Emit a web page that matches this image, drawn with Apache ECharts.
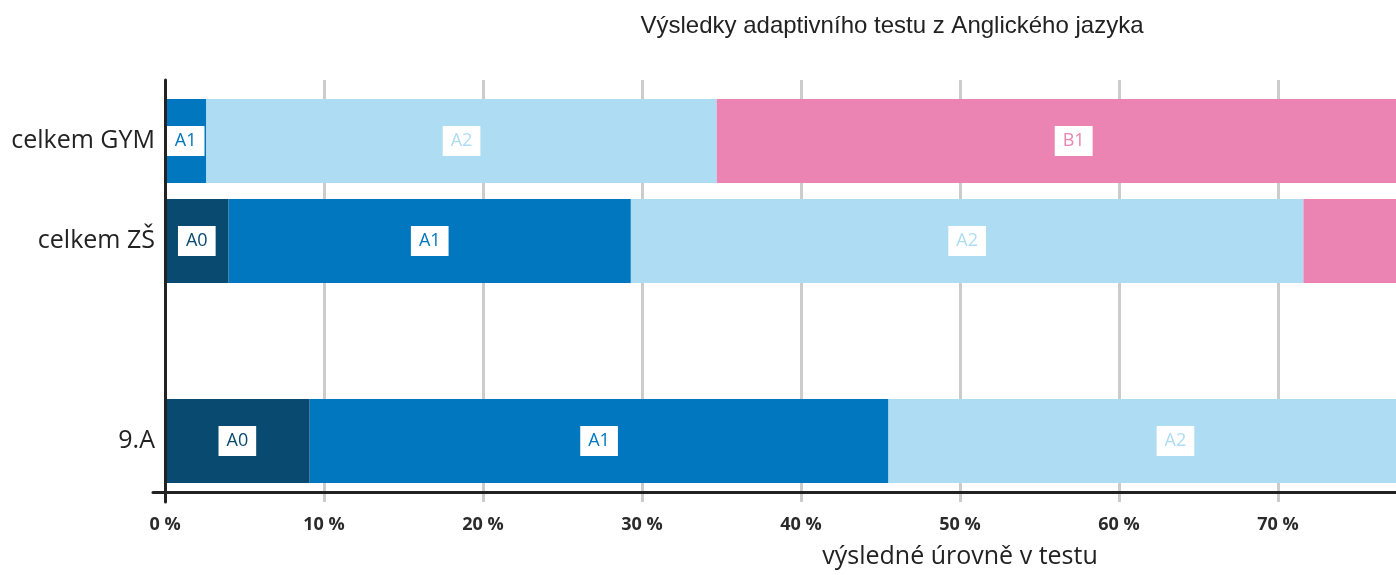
<!DOCTYPE html>
<html>
<head>
<meta charset="utf-8">
<script src="https://cdn.jsdelivr.net/npm/echarts@6/dist/echarts.min.js"></script>
<style>
html,body{margin:0;padding:0;background:#fff;}
#c{width:1396px;height:575px;}
</style>
</head>
<body>
<div id="c"></div>
<script>
var categories = ['celkem GYM', 'celkem ZŠ', '', '9.A'];
var levels = ['A0', 'A1', 'A2', 'B1', 'B2'];
var A0 = [null, 4.0, null, 9.1];
var A1 = [2.6, 25.3, null, 36.4];
var A2 = [32.1, 42.3, null, 36.1];
var B1 = [44.9, 24.0, null, 16.0];
var B2 = [20.4, 4.4, null, 2.4];
var xTicks = [0, 10, 20, 30, 40, 50, 60, 70, 80, 90, 100];
var colors = ['#094a71', '#0077be', '#aedcf2', '#eb84b2', '#b5487f'];

var chart = echarts.init(document.getElementById('c'));
var seriesData = [A0, A1, A2, B1, B2];
var series = levels.map(function (name, i) {
  return {
    name: name,
    type: 'bar',
    stack: 'all',
    xAxisIndex: 0,
    yAxisIndex: 0,
    barWidth: '84%',
    itemStyle: { color: colors[i] },
    label: {
      show: true,
      position: 'inside',
      formatter: name,
      color: colors[i],
      backgroundColor: '#ffffff',
      fontFamily: 'Open Sans',
      fontSize: 18,
      lineHeight: 18,
      padding: [6, 8, 6, 8]
    },
    data: seriesData[i]
  };
});

chart.setOption({
  animation: false,
  title: {
    text: 'Výsledky adaptivního testu z Anglického jazyka',
    left: 887,
    top: 9,
    textAlign: 'center',
    textStyle: { fontFamily: 'Liberation Sans', fontSize: 24, fontWeight: 'normal', color: '#222' }
  },
  grid: [
    { left: 165, top: 91, height: 400, width: 1590, containLabel: false, outerBoundsMode: 'none' },
    { left: 165, top: 80, height: 422, width: 1590, containLabel: false, outerBoundsMode: 'none' },
    { left: 153, top: 80, height: 412, width: 1602, containLabel: false, outerBoundsMode: 'none' }
  ],
  xAxis: [
    {
      gridIndex: 0, type: 'value', min: xTicks[0], max: xTicks[xTicks.length - 1], interval: 10,
      axisLine: { show: false }, axisTick: { show: false }, splitLine: { show: false },
      axisLabel: {
        margin: 25,
        formatter: function (v) { return v + ' %'; },
        fontFamily: 'Open Sans', fontWeight: 'bold', fontSize: 18, color: '#2a2a2a'
      },
      name: 'výsledné úrovně v testu',
      nameLocation: 'middle',
      nameGap: 53,
      nameTextStyle: { fontFamily: 'Open Sans', fontSize: 25, color: '#222' }
    },
    {
      gridIndex: 1, type: 'value', min: xTicks[0], max: xTicks[xTicks.length - 1], interval: 10,
      axisLine: { show: false }, axisTick: { show: false }, axisLabel: { show: false },
      splitLine: { show: true, lineStyle: { color: '#cccccc', width: 3 } }
    },
    {
      gridIndex: 2, type: 'value', min: 0, max: 100, z: 5,
      axisLine: { show: true, lineStyle: { color: '#222', width: 3 } },
      axisTick: { show: false }, axisLabel: { show: false }, splitLine: { show: false }
    }
  ],
  yAxis: [
    {
      gridIndex: 0, type: 'category', data: categories, inverse: true,
      axisLine: { show: false }, axisTick: { show: false }, splitLine: { show: false },
      axisLabel: { margin: 10, fontFamily: 'Open Sans', fontSize: 25, color: '#222' }
    },
    {
      gridIndex: 1, type: 'value', min: 0, max: 1, z: 5,
      axisLine: { show: true, lineStyle: { color: '#222', width: 3 } },
      axisTick: { show: false }, axisLabel: { show: false }, splitLine: { show: false }
    },
    {
      gridIndex: 2, type: 'value', min: 0, max: 1, show: false
    }
  ],
  series: series
});
</script>
</body>
</html>
